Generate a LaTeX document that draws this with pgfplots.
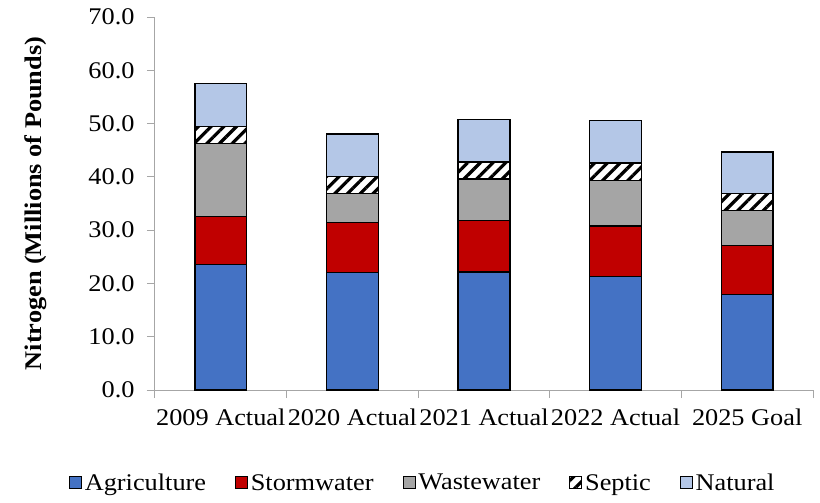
\documentclass[border=0pt]{standalone}
\usepackage{pgfplots}
\pgfplotsset{compat=1.18}
\usepackage{fontspec}
\setmainfont[FakeStretch=1.1]{Liberation Serif}
\usetikzlibrary{patterns.meta}
\definecolor{agri}{HTML}{4472C4}
\definecolor{storm}{HTML}{C00000}
\definecolor{waste}{HTML}{A5A5A5}
\definecolor{natural}{HTML}{B4C7E7}
\definecolor{axgray}{HTML}{A6A6A6}
\begin{document}
\begin{tikzpicture}
\begin{axis}[
  name=ax,
  scale only axis, width=658bp, height=373bp,
  ybar stacked, bar width=0.395,
  xmin=-0.5, xmax=4.5, ymin=0, ymax=70,
  axis x line*=bottom, axis y line*=left,
  axis line style={draw=axgray, line width=1pt},
  x axis line style={shorten <=-8bp},
  ytick={0,10,...,70},
  yticklabel style={xshift=-9bp, /pgf/number format/.cd, fixed, fixed zerofill, precision=1},
  /pgf/number format/assume math mode=true,
  tick style={draw=axgray, line width=1pt},
  tick align=outside, major tick length=8bp,
  xtick={-0.5,0.5,...,4.5}, xticklabels={},
  extra x ticks={0,1,2,3,4},
  extra x tick labels={2009 Actual,2020 Actual,2021 Actual,2022 Actual,2025 Goal},
  extra x tick style={major tick length=0pt},
  xticklabel style={yshift=-15bp},
  tick label style={font=\fontsize{24}{28}\selectfont, text=black},
  ylabel={Nitrogen (Millions of Pounds)},
  ylabel style={font=\fontsize{24}{28}\selectfont\bfseries, at={(axis description cs:-0.182,0.5)}, anchor=center},
  legend style={at={(axis description cs:0.407,-0.249)}, anchor=center, legend columns=-1, draw=none,
    font=\fontsize{24}{28}\selectfont,
    /tikz/every odd column/.append style={column sep=1bp},
    /tikz/every even column/.append style={column sep=27bp}},
  legend image code/.code={\draw[#1,draw=black,line width=0.8pt] (0bp,-6bp) rectangle (12bp,6bp);},
  every axis plot/.append style={draw=black, line width=1.4pt},
]
\addplot[fill=agri] coordinates {(0,23.5) (1,22.0) (2,22.15) (3,21.3) (4,17.9)};
\addlegendentry{Agriculture}
\addplot[fill=storm] coordinates {(0,9.1) (1,9.4) (2,9.65) (3,9.5) (4,9.25)};
\addlegendentry{Stormwater}
\addplot[fill=waste] coordinates {(0,13.7) (1,5.45) (2,7.8) (3,8.55) (4,6.55)};
\addlegendentry{Wastewater}
\addplot[fill=white, postaction={pattern={Lines[angle=45,distance=9bp,line width=3.2bp]}, pattern color=black}] coordinates {(0,3.2) (1,3.2) (2,3.2) (3,3.25) (4,3.2)};
\addlegendentry{Septic}
\addplot[fill=natural] coordinates {(0,8.05) (1,8.0) (2,8.0) (3,7.95) (4,7.8)};
\addlegendentry{Natural}
\end{axis}
\pgfresetboundingbox
\path[use as bounding box] (ax.south west) ++(-155bp,-113bp) rectangle ++(820bp,503bp);
\end{tikzpicture}
\end{document}
